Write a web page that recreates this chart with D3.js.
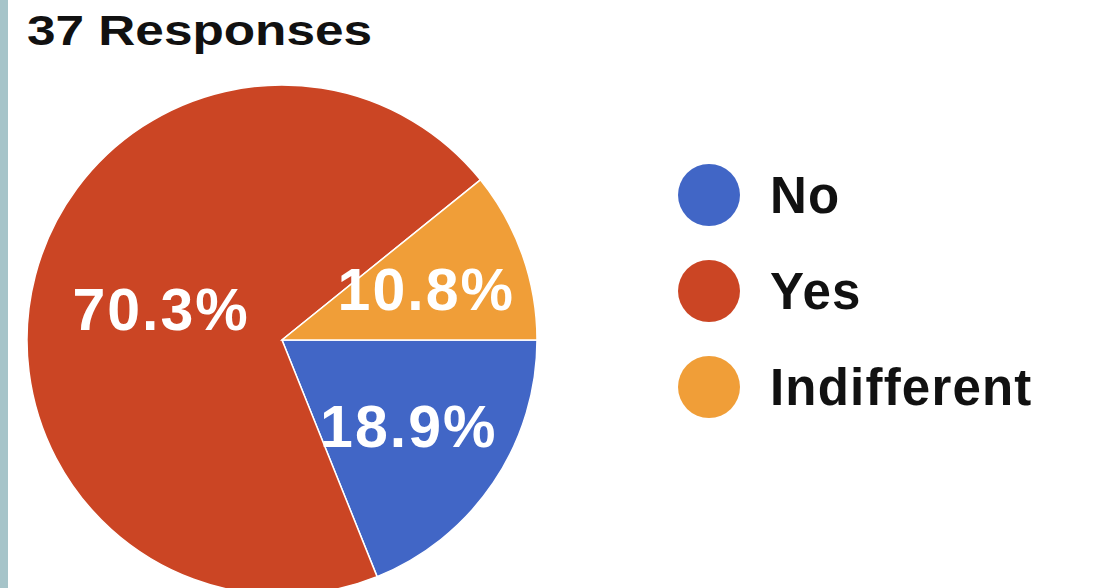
<!DOCTYPE html>
<html lang="en">
<head>
    <meta charset="UTF-8">
    <title>37 Responses</title>
    <script src="https://d3js.org/d3.v7.min.js"></script>
    <style>
        body{ margin:0; background:#fff; }
        .title{ font-family:"Liberation Sans", Arial, sans-serif; font-weight:bold; font-size:42px; fill:#111; }
        .sliceLabel{ font-family:"Liberation Sans", Arial, sans-serif; font-weight:bold; font-size:59px; letter-spacing:2px; fill:#fff; }
        .legendText{ font-family:"Liberation Sans", Arial, sans-serif; font-weight:bold; font-size:51px; letter-spacing:1.2px; fill:#111; }
    </style>
</head>
<body>
<svg width="1107" height="588"></svg>
<script>
    // answers to the question, 37 people in total
    const categories = ["No", "Yes", "Indifferent"];
    const counts = [7, 26, 4];
    const colors = ["#4166c6", "#cb4524", "#f09e38"];
    const titleText = "37 Responses";

    const svg = d3.select("svg");
    const total = d3.sum(counts);

    // thin strip on the left edge of the screenshot
    svg.append("rect").attr("x", 0).attr("y", 0).attr("width", 8).attr("height", 588).attr("fill", "#a6c4c9");

    svg.append("text")
        .attr("class", "title")
        .attr("x", 27).attr("y", 45)
        .attr("textLength", 345)
        .attr("lengthAdjust", "spacingAndGlyphs")
        .text(titleText);

    const R = 255;
    const cx = 282, cy = 340;
    const color = d3.scaleOrdinal().domain(categories).range(colors);

    // start at 3 o'clock and go clockwise, keep data order
    const pie = d3.pie().sort(null)
        .startAngle(Math.PI / 2)
        .endAngle(Math.PI / 2 + 2 * Math.PI)
        .value(d => d.count);

    const data = categories.map((c, i) => ({name: c, count: counts[i]}));
    const arcs = pie(data);
    const arc = d3.arc().innerRadius(0).outerRadius(R);
    // small slices get their label further out, the big one closer to the middle
    const labelPos = d => {
        const big = d.endAngle - d.startAngle > Math.PI;
        const r = big ? R * 0.49 : R * 0.6;
        return d3.arc().innerRadius(r).outerRadius(r).centroid(d);
    };

    const g = svg.append("g").attr("transform", `translate(${cx},${cy})`);

    g.selectAll("path").data(arcs).join("path")
        .attr("d", arc)
        .attr("fill", d => color(d.data.name))
        .attr("stroke", "#fff")
        .attr("stroke-width", 1.5);

    g.selectAll("text").data(arcs).join("text")
        .attr("class", "sliceLabel")
        .attr("transform", d => `translate(${labelPos(d)})`)
        .attr("text-anchor", "middle")
        .attr("dy", "0.36em")
        .text(d => d3.format(".1%")(d.data.count / total));

    // legend on the right
    const legend = svg.append("g").attr("transform", "translate(709,195)");
    const ly = d3.scalePoint().domain(categories).range([0, 192]);

    const item = legend.selectAll("g").data(categories).join("g")
        .attr("transform", d => `translate(0,${ly(d)})`);
    item.append("circle").attr("r", 31).attr("fill", d => color(d));
    item.append("text")
        .attr("class", "legendText")
        .attr("x", 61)
        .attr("dy", "0.36em")
        .text(d => d);
</script>
</body>
</html>
